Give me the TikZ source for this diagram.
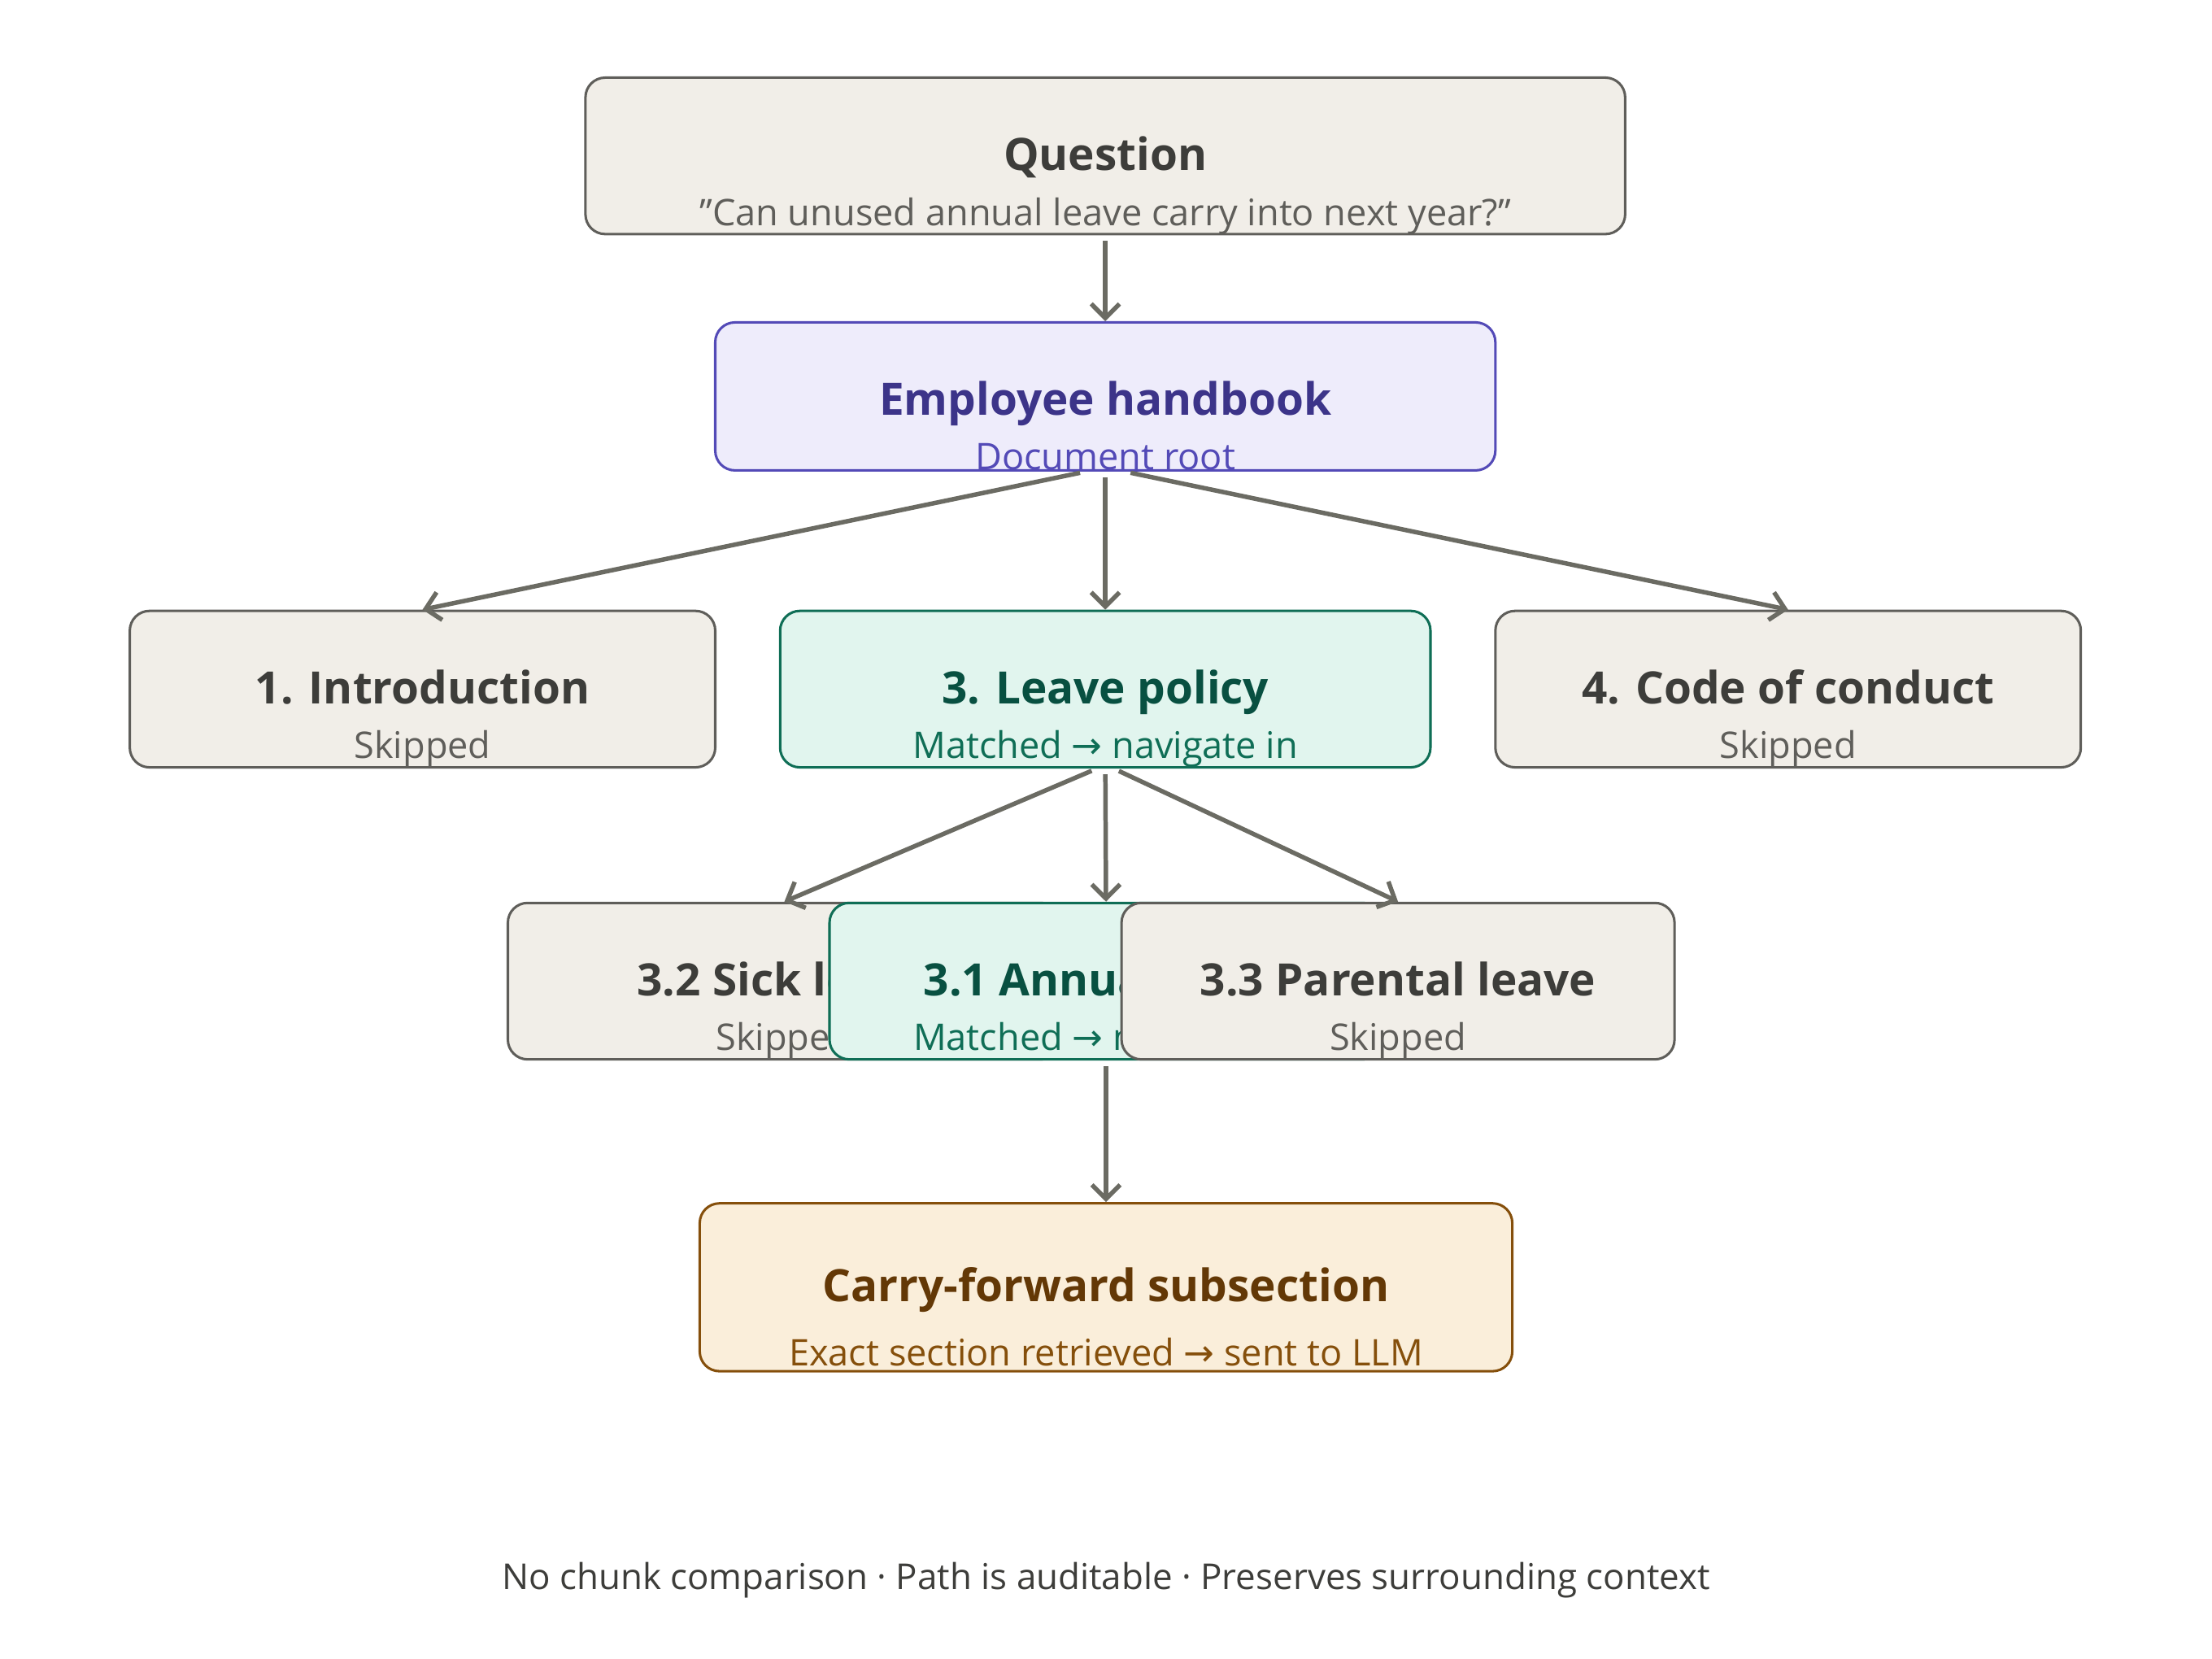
\documentclass[tikz,border=0pt]{standalone}
\usepackage{fontspec}
\setmainfont{Open Sans}[Ligatures=ResetAll]
\newfontfamily\arrowfont{DejaVu Sans}
\usetikzlibrary{arrows.meta,positioning}
\definecolor{greyfill}{HTML}{F1EEE8}
\definecolor{greyline}{HTML}{5F5E5A}
\definecolor{greytext}{HTML}{3D3D3A}
\definecolor{purpfill}{HTML}{EEECFB}
\definecolor{purpline}{HTML}{534AB7}
\definecolor{purptext}{HTML}{3C3489}
\definecolor{greenfill}{HTML}{E1F5EE}
\definecolor{greenline}{HTML}{0F6E56}
\definecolor{greentext}{HTML}{085041}
\definecolor{orfill}{HTML}{FAEEDA}
\definecolor{orline}{HTML}{854F0B}
\definecolor{ortext}{HTML}{633806}
\definecolor{edgegrey}{HTML}{6B6B63}

\newcommand{\tto}{{\arrowfont →}}
\newcommand{\ttl}[1]{{\fontsize{9}{10}\selectfont\bfseries\rule{0pt}{0.66cm}#1}}
\newcommand{\sbt}[2]{{\fontsize{7.4}{8.5}\selectfont\color{#1}#2}}

\begin{document}
\begin{tikzpicture}[
  box/.style={rounded corners=0.14cm, line width=0.5pt, align=center, inner sep=0pt,
    minimum height=1.01cm},
  plain/.style={box, fill=greyfill, draw=greyline, text=greytext},
  root/.style={box, fill=purpfill, draw=purpline, text=purptext},
  match/.style={box, fill=greenfill, draw=greenline, text=greentext},
  result/.style={box, fill=orfill, draw=orline, text=ortext, minimum height=1.19cm},
  link/.style={draw=edgegrey, line width=0.9pt, -{Straight Barb[length=0.1cm,width=0.2cm]},
    shorten <=0.04cm}
]
  \useasboundingbox (0,0) rectangle (15.68,-11.76);

  \node[plain, minimum width=7.37cm] (question) at (7.835,-1.105)
    {\ttl{Question}\\[-1pt]\sbt{greyline}{"Can unused annual leave carry into next year?"}};
  \node[root, minimum width=5.53cm] (handbook) at (7.835,-2.81)
    {\ttl{Employee handbook}\\[-1pt]\sbt{purpline}{Document root}};

  \node[plain, minimum width=4.15cm] (intro) at (2.995,-4.885)
    {\ttl{1. Introduction}\\[-1pt]\sbt{greyline}{Skipped}};
  \node[match, minimum width=4.61cm] (leave) at (7.835,-4.885)
    {\ttl{3. Leave policy}\\[-1pt]\sbt{greenline}{Matched \tto{} navigate in}};
  \node[plain, minimum width=4.15cm] (conduct) at (12.675,-4.885)
    {\ttl{4. Code of conduct}\\[-1pt]\sbt{greyline}{Skipped}};

  % the three subsections overlap, drawn in this order
  \node[plain, minimum width=3.92cm] (sick) at (5.56,-6.955)
    {\ttl{3.2 Sick leave}\\[-1pt]\sbt{greyline}{Skipped}};
  \node[match, minimum width=3.92cm] (annual) at (7.84,-6.955)
    {\ttl{3.1 Annual leave}\\[-1pt]\sbt{greenline}{Matched \tto{} navigate in}};
  \node[plain, minimum width=3.92cm] (parental) at (9.91,-6.955)
    {\ttl{3.3 Parental leave}\\[-1pt]\sbt{greyline}{Skipped}};

  \node[result, minimum width=5.76cm] (carry) at (7.84,-9.125)
    {\ttl{Carry-forward subsection}\\[1pt]\sbt{orline}{Exact section retrieved \tto{} sent to LLM}};

  \node[text=greytext, font=\fontsize{7.2}{8.5}\selectfont] (footer) at (7.84,-11.2)
    {No chunk comparison · Path is auditable · Preserves surrounding context};

  \draw[link] (question.south) -- (handbook.north);
  \draw[link] ([xshift=-0.14cm]handbook.south) -- (intro.north);
  \draw[link] (handbook.south) -- (leave.north);
  \draw[link] ([xshift=0.14cm]handbook.south) -- (conduct.north);
  \draw[link] ([xshift=-0.06cm]leave.south) -- (sick.north);
  \draw[link] (leave.south) -- (annual.north);
  \draw[link] ([xshift=0.06cm]leave.south) -- (parental.north);
  \draw[link] (annual.south) -- (carry.north);
\end{tikzpicture}
\end{document}
